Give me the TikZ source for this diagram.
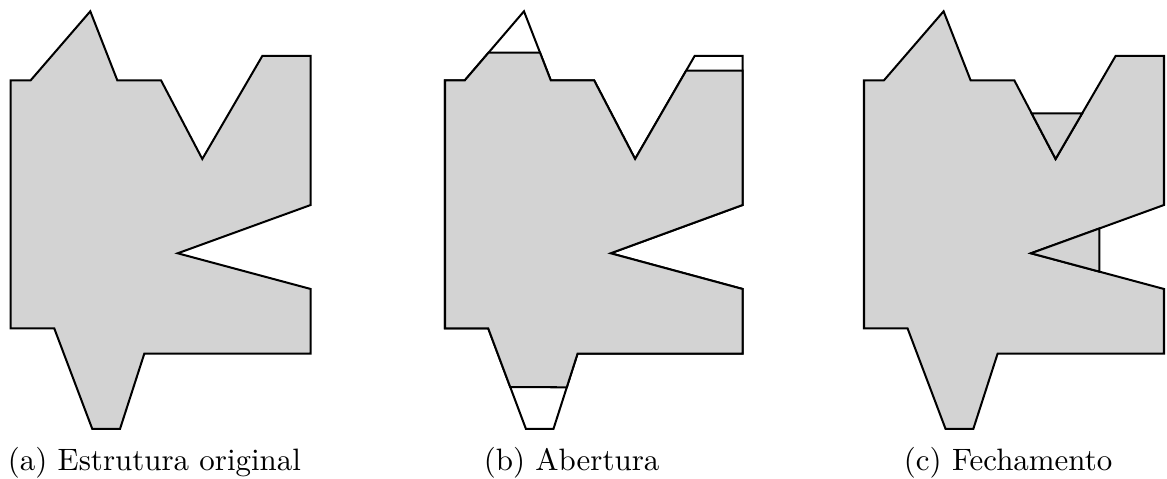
\documentclass[tikz,border=0pt]{standalone}
\usetikzlibrary{calc}
\definecolor{shapegray}{RGB}{211,211,211}
\newcommand{\mkshape}[1]{%
  \coordinate (#1P1) at (10.7,80.3);
  \coordinate (#1P2) at (30.7,80.3);
  \coordinate (#1P3) at (90.3,11.3);
  \coordinate (#1P4) at (117.3,80.3);
  \coordinate (#1P5) at (161,80.3);
  \coordinate (#1P6) at (202.3,159);
  \coordinate (#1P7) at (262.3,56);
  \coordinate (#1P8) at (310.7,56);
  \coordinate (#1P9) at (310.7,205);
  \coordinate (#1P10) at (177.7,253.3);
  \coordinate (#1P11) at (310.7,289);
  \coordinate (#1P12) at (310.7,353.7);
  \coordinate (#1P13) at (144.3,353.7);
  \coordinate (#1P14) at (120,429);
  \coordinate (#1P15) at (92.3,429);
  \coordinate (#1P16) at (54.3,328.5);
  \coordinate (#1P17) at (10.7,328.5);
}
\newcommand{\outline}[1]{(#1P1) -- (#1P2) -- (#1P3) -- (#1P4) -- (#1P5) -- (#1P6) -- (#1P7) -- (#1P8) -- (#1P9) -- (#1P10) -- (#1P11) -- (#1P12) -- (#1P13) -- (#1P14) -- (#1P15) -- (#1P16) -- (#1P17) -- cycle}
\begin{document}
\begin{tikzpicture}[x=0.3233pt,y=-0.3233pt,
  edge/.style={draw=black,line width=0.65pt},
  filled/.style={edge,fill=shapegray},
  caption/.style={anchor=base west,inner sep=0pt,font=\normalsize}]
\useasboundingbox (0,0) rectangle (1167,479);
% (a) original
\begin{scope}
  \mkshape{a}
  \path[filled] \outline{a};
\end{scope}
% (b) opening
\begin{scope}[shift={(434.38,0)},xscale=0.9923]
  \mkshape{b}
  \coordinate (bA1) at ($(bP2)!0.4!(bP3)$);
  \coordinate (bA2) at ($(bP3)!0.6!(bP4)$);
  \coordinate (bA3) at ($(bP6)!0.857!(bP7)$);
  \coordinate (bA4) at (bP8 |- bA3);
  \coordinate (bA5) at ($(bP13)!0.446!(bP14)$);
  \coordinate (bA6) at ($(bP16)!0.584!(bP15)$);
  \path[edge] \outline{b};
  \path[filled] (bP1) -- (bP2) -- (bA1) -- (bA2) -- (bP4) -- (bP5) -- (bP6) -- (bA3) -- (bA4) -- (bP9) -- (bP10) -- (bP11) -- (bP12) -- (bP13) -- (bA5) -- (bA6) -- (bP16) -- (bP17) -- cycle;
\end{scope}
% (c) closing
\begin{scope}[shift={(853.3,0)}]
  \mkshape{c}
  \coordinate (cC1) at ($(cP5)!0.419!(cP6)$);
  \coordinate (cC2) at ($(cP6)!0.4437!(cP7)$);
  \coordinate (cC3) at ($(cP10)!0.5135!(cP9)$);
  \coordinate (cC4) at ($(cP10)!0.5135!(cP11)$);
  \path[filled] \outline{c};
  \path[filled] (cC1) -- (cP6) -- (cC2) -- cycle;
  \path[filled] (cC3) -- (cP10) -- (cC4) -- cycle;
\end{scope}
\node[caption] (capa) at (7.3,470.5) {(a) Estrutura original};
\node[caption] (capb) at (483.3,470.5) {(b) Abertura};
\node[caption] (capc) at (903.3,470.5) {(c) Fechamento};
\end{tikzpicture}
\end{document}
